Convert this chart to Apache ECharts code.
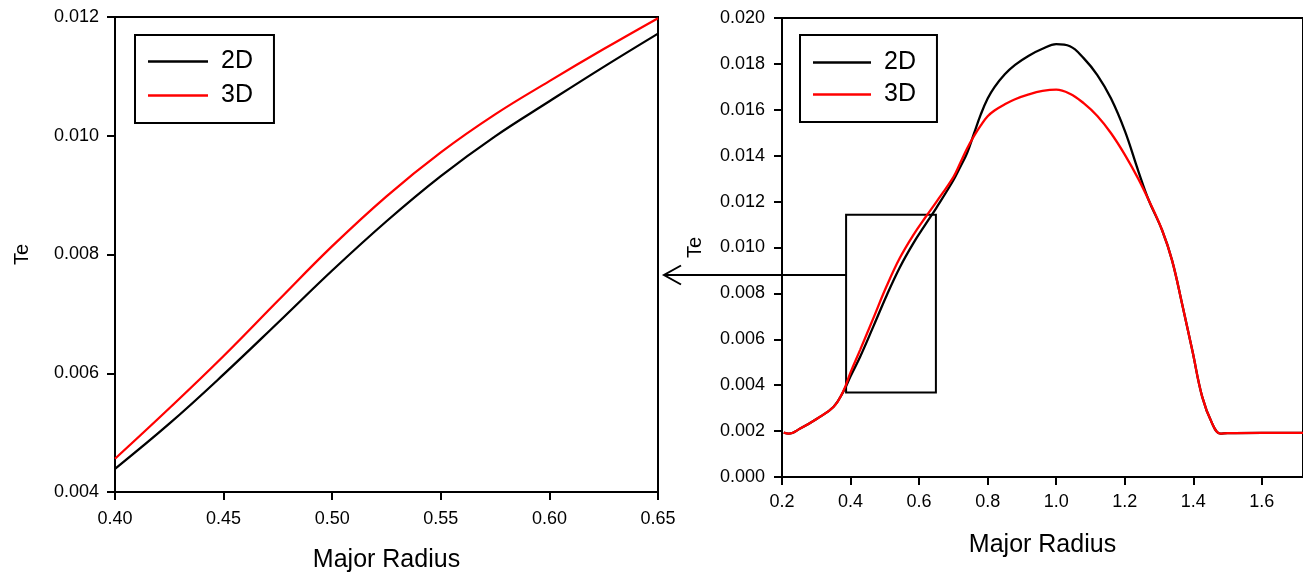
<!DOCTYPE html>
<html><head><meta charset="utf-8">
<script src="https://cdn.jsdelivr.net/npm/echarts@6/dist/echarts.min.js"></script>
<style>html,body{margin:0;padding:0;background:#fff}#c{width:1303px;height:578px}</style>
</head><body><div id="c"></div>
<script>
// Left panel (zoom): Te vs Major Radius
const leftX  = [0.400, 0.425, 0.450, 0.475, 0.500, 0.525, 0.550, 0.575, 0.600, 0.625, 0.650];
const left2D = [0.00439, 0.00515, 0.00598, 0.00685, 0.00773, 0.00856, 0.00932, 0.00999, 0.01058, 0.01116, 0.01172];
const left3D = [0.00456, 0.00541, 0.00629, 0.00722, 0.00814, 0.00898, 0.00972, 0.01036, 0.01092, 0.01146, 0.01198];

// Right panel (full profile)
const rightX  = [0.205, 0.22, 0.253, 0.302, 0.35, 0.379, 0.40, 0.428, 0.466, 0.505, 0.544, 0.583, 0.62, 0.65, 0.70, 0.72, 0.74, 0.76, 0.78, 0.80, 0.82, 0.85, 0.88, 0.92, 0.96, 1.00, 1.04, 1.08, 1.12, 1.16, 1.20, 1.24, 1.27, 1.309, 1.338, 1.367, 1.397, 1.426, 1.455, 1.479, 1.50, 1.60, 1.72];
const right2D = [0.00193, 0.00189, 0.00211, 0.00254, 0.00305, 0.00372, 0.00439, 0.00524, 0.00654, 0.00790, 0.00914, 0.01018, 0.01104, 0.01172, 0.01293, 0.01351, 0.01412, 0.01496, 0.01580, 0.01649, 0.01699, 0.01755, 0.01796, 0.01836, 0.01866, 0.01886, 0.01877, 0.01825, 0.01751, 0.01649, 0.01509, 0.01331, 0.01206, 0.01075, 0.00944, 0.00756, 0.00552, 0.00349, 0.00233, 0.00189, 0.00191, 0.00192, 0.00192];
const right3D = [0.00193, 0.00189, 0.00211, 0.00254, 0.00305, 0.00375, 0.00456, 0.00554, 0.00690, 0.00831, 0.00955, 0.01054, 0.01135, 0.01198, 0.01307, 0.01368, 0.01431, 0.01485, 0.01532, 0.01572, 0.01597, 0.01624, 0.01646, 0.01667, 0.01682, 0.01688, 0.01670, 0.01629, 0.01573, 0.01498, 0.01405, 0.01298, 0.01206, 0.01075, 0.00944, 0.00756, 0.00552, 0.00349, 0.00233, 0.00189, 0.00191, 0.00192, 0.00192];

const seriesNames = ['2D', '3D'];
const axisTitleX = 'Major Radius';
const axisTitleY = 'Te';

// zoom-box annotation on the right panel (data coords)
const zoomBoxX = [0.387, 0.649];
const zoomBoxY = [0.00368, 0.01143];
const arrowY = 0.00882;

const FONT = 'Liberation Sans, Arial, sans-serif';
const zip = (xs, ys) => xs.map((x, i) => [x, ys[i]]);

function xAxisCfg(grid, min, max, interval, dec, margin) {
  return {
    type: 'value', gridIndex: grid, min, max, interval,
    name: axisTitleX, nameLocation: 'middle', nameGap: 56,
    nameTextStyle: { fontFamily: FONT, fontSize: 25, color: '#000', lineHeight: 25 },
    axisLine: { show: true, onZero: false, lineStyle: { color: '#000', width: 2 } },
    axisTick: { show: true, inside: false, length: 8, lineStyle: { color: '#000', width: 2 } },
    axisLabel: { margin, fontFamily: FONT, fontSize: 18, color: '#000', showMaxLabel: grid === 0,
      formatter: v => v.toFixed(dec) },
    splitLine: { show: false }
  };
}
function yAxisCfg(grid, min, max, interval, nameGap, margin) {
  return {
    type: 'value', gridIndex: grid, min, max, interval,
    name: axisTitleY, nameLocation: 'middle', nameGap, nameRotate: 90,
    nameTextStyle: { fontFamily: FONT, fontSize: 20, color: '#000' },
    axisLine: { show: true, onZero: false, lineStyle: { color: '#000', width: 2 } },
    axisTick: { show: true, inside: false, length: 8, lineStyle: { color: '#000', width: 2 } },
    axisLabel: { margin, fontFamily: FONT, fontSize: 18, color: '#000', formatter: v => v.toFixed(3) },
    splitLine: { show: false }
  };
}
function lineSeries(name, color, xi, data, extra) {
  return Object.assign({
    type: 'line', name, xAxisIndex: xi, yAxisIndex: xi, data,
    smooth: 0.4, symbol: 'none', showSymbol: false,
    lineStyle: { color, width: 2.3 }, itemStyle: { color },
    silent: true, animation: false
  }, extra || {});
}
function legendCfg(left, itemWidth, itemGap, padding) {
  return {
    data: seriesNames, left, top: 35, orient: 'vertical',
    padding, itemWidth, itemHeight: 2.5, itemGap, icon: 'rect',
    borderColor: '#000', borderWidth: 2, backgroundColor: '#fff',
    selectedMode: false,
    textStyle: { fontFamily: FONT, fontSize: 25, color: '#000', lineHeight: 25, padding: [0, 0, 0, 8] }
  };
}

const chart = echarts.init(document.getElementById('c'), null, { renderer: 'canvas' });
chart.setOption({
  backgroundColor: '#fff',
  animation: false,
  grid: [
    { left: 115, right: 645, top: 17, bottom: 84, show: true, borderColor: '#000', borderWidth: 2, containLabel: false },
    { left: 782, right: -2, top: 18, bottom: 101, show: true, borderColor: '#000', borderWidth: 2, containLabel: false }
  ],
  legend: [
    legendCfg(135, 60, 9, [14, 21, 15, 13]),
    legendCfg(800, 58, 7, [15, 21, 15, 13])
  ],
  xAxis: [ xAxisCfg(0, 0.40, 0.65, 0.05, 2, 18), xAxisCfg(1, 0.2, 1.72, 0.2, 1, 16) ],
  yAxis: [ yAxisCfg(0, 0.004, 0.012, 0.002, 83, 16), yAxisCfg(1, 0, 0.020, 0.002, 77, 17) ],
  series: [
    lineSeries('2D', '#000000', 0, zip(leftX, left2D)),
    lineSeries('3D', '#ff0000', 0, zip(leftX, left3D)),
    lineSeries('2D', '#000000', 1, zip(rightX, right2D), {
      markArea: {
        silent: true,
        itemStyle: { color: 'rgba(0,0,0,0)', borderColor: '#000', borderWidth: 2 },
        data: [[{ coord: [zoomBoxX[0], zoomBoxY[1]] }, { coord: [zoomBoxX[1], zoomBoxY[0]] }]]
      }
    }),
    lineSeries('3D', '#ff0000', 1, zip(rightX, right3D))
  ]
});

// arrow from the zoom box to the left panel
const start = chart.convertToPixel({ gridIndex: 1 }, [zoomBoxX[0], arrowY]);
const leftEdge = chart.convertToPixel({ gridIndex: 0 }, [0.65, 0.004]);
const tipX = leftEdge[0] + 6;
const ay = Math.round(start[1]);
chart.setOption({
  graphic: [
    { type: 'polyline', z: 100, shape: { points: [[start[0], ay], [tipX, ay]] }, style: { stroke: '#000', lineWidth: 2, fill: null } },
    { type: 'polyline', z: 100, shape: { points: [[tipX + 17, ay - 9.5], [tipX, ay], [tipX + 17, ay + 9.5]] }, style: { stroke: '#000', lineWidth: 2, fill: null } }
  ]
});
</script>
</body></html>
